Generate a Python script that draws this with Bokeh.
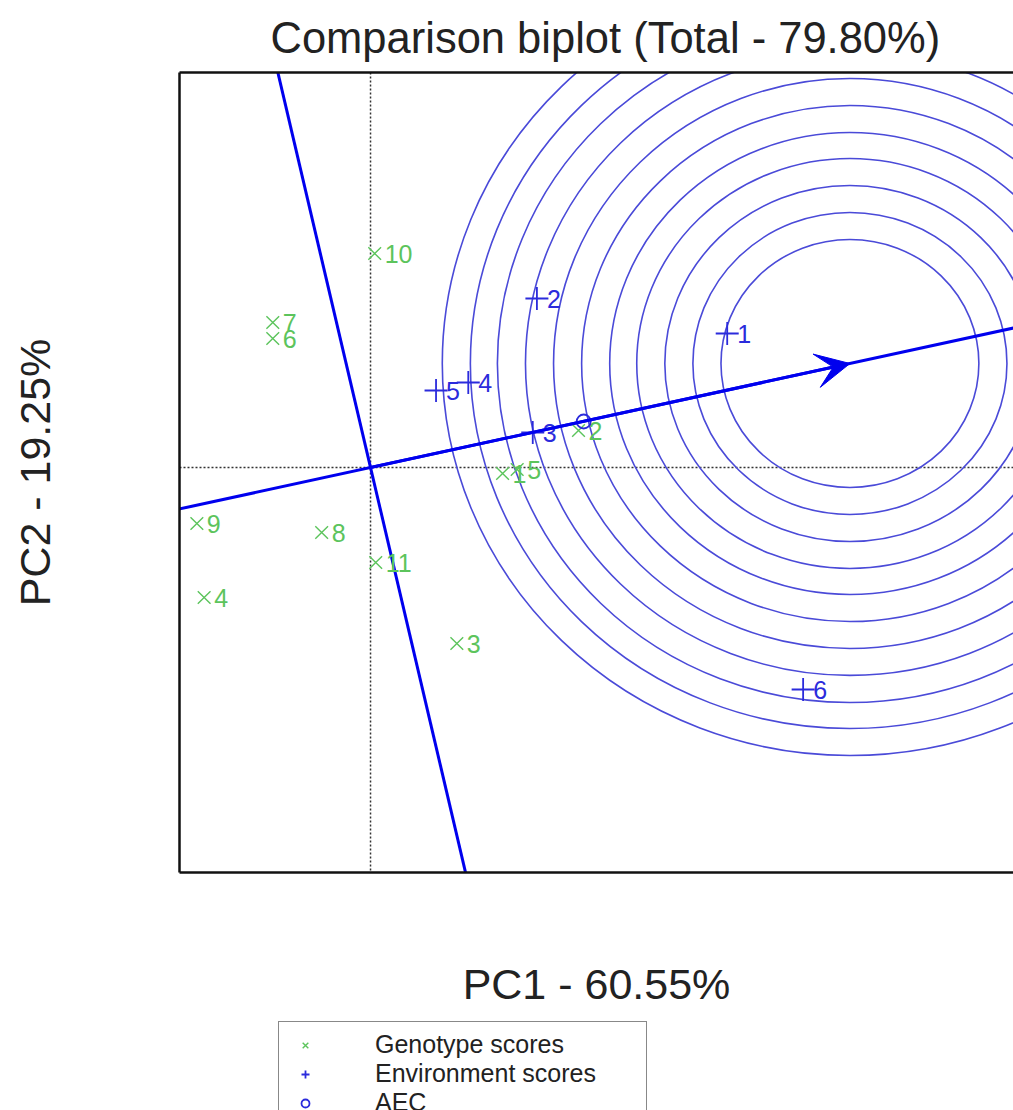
import numpy as np
from bokeh.plotting import figure
from bokeh.layouts import column
from bokeh.models import (Range1d, LinearAxis, FixedTicker, Span, Arrow, VeeHead,
                          Legend, LegendItem)
from bokeh.core.properties import value
from bokeh.embed import file_html
from bokeh.resources import INLINE

# ---------------- data ----------------
title_text = "Comparison biplot (Total - 79.80%)"
x_label = "PC1 - 60.55%"
y_label = "PC2 - 19.25%"

gen_labels = ["1", "2", "3", "4", "5", "6", "7", "8", "9", "10", "11"]
gen_pc1 = [1.27, 2.00, 0.83, -1.60, 1.41, -0.94, -0.94, -0.47, -1.67, 0.04, 0.05]
gen_pc2 = [-0.06, 0.37, -1.76, -1.30, -0.02, 1.29, 1.45, -0.65, -0.56, 2.14, -0.95]

env_labels = ["1", "2", "3", "4", "5", "6"]
env_pc1 = [3.43, 1.60, 1.56, 0.94, 0.63, 4.16]
env_pc2 = [1.34, 1.69, 0.35, 0.85, 0.77, -2.22]

aec_pc1 = [2.05]
aec_pc2 = [0.46]

ideal_pc1 = 4.61
ideal_pc2 = 1.04

ring_radii = [1.24, 1.51, 1.78, 2.05, 2.31, 2.58, 2.85, 3.12, 3.39, 3.65, 3.92]

legend_labels = ["Genotype scores", "Environment scores", "AEC"]

x_start, x_end = -1.837, 6.183
y_start, y_end = -4.05, 3.95

# ---------------- styles ----------------
FONT = "Liberation Sans"
GREEN = "#5cc45c"
BLUE_TXT = "#2b2bdc"
BLUE_LINE = "#0000ee"
RING = "#4a4ad8"

p = figure(width=1013, height=1020,
           x_range=Range1d(x_start, x_end), y_range=Range1d(y_start, y_end),
           output_backend="svg", toolbar_location=None,
           min_border_left=179, min_border_right=0,
           min_border_top=72, min_border_bottom=148,
           outline_line_color=None, background_fill_color="white",
           border_fill_color="white")
p.frame_align = False
p.grid.visible = False

p.title.text = title_text
p.title.align = "left"
p.title.offset = 91
p.title.standoff = 21
p.title.text_font = FONT
p.title.text_font_size = "43.5px"
p.title.text_font_style = "normal"
p.title.text_color = "#222222"

def style_axis(ax):
    ax.ticker = FixedTicker(ticks=[])
    ax.major_tick_line_color = None
    ax.minor_tick_line_color = None
    ax.major_tick_out = 0
    ax.major_label_text_font_size = "0px"
    ax.axis_line_color = "#111111"
    ax.axis_line_width = 2.5
    ax.axis_label_text_font = FONT
    ax.axis_label_text_font_size = "43px"
    ax.axis_label_text_font_style = "normal"
    ax.axis_label_text_color = "#222222"

style_axis(p.xaxis[0])
style_axis(p.yaxis[0])
p.xaxis[0].axis_label = x_label
p.xaxis[0].axis_label_standoff = 87
p.yaxis[0].axis_label = y_label
p.yaxis[0].axis_label_standoff = 121

top_axis = LinearAxis()
style_axis(top_axis)
p.add_layout(top_axis, "above")

# reference dotted axes through origin
p.add_layout(Span(location=0, dimension="height", line_color="#333333",
                  line_dash="2 2", line_width=1.5, level="underlay"))
p.add_layout(Span(location=0, dimension="width", line_color="#333333",
                  line_dash="2 2", line_width=1.5, level="underlay"))

# concentric rings around ideal environment
n = len(ring_radii)
p.ellipse(x=[ideal_pc1] * n, y=[ideal_pc2] * n,
          width=[2 * r for r in ring_radii], height=[2 * r for r in ring_radii],
          fill_color=None, line_color=RING, line_width=1.6)

# AEC abscissa and ordinate
norm = np.hypot(ideal_pc1, ideal_pc2)
ux, uy = ideal_pc1 / norm, ideal_pc2 / norm
t = np.array([-30.0, 30.0])
p.line(t * ux, t * uy, line_color=BLUE_LINE, line_width=3)
p.line(-t * uy, t * ux, line_color=BLUE_LINE, line_width=3)
p.add_layout(Arrow(end=VeeHead(size=34, fill_color=BLUE_LINE, line_color=BLUE_LINE),
                   x_start=0, y_start=0, x_end=ideal_pc1, y_end=ideal_pc2,
                   line_color=BLUE_LINE, line_width=3))

# genotypes
gen_style = dict(marker="x", size=18, line_color=GREEN, line_width=1.4)
p.scatter(gen_pc1, gen_pc2, **gen_style)
p.text(gen_pc1, gen_pc2, text=gen_labels, x_offset=10, text_baseline="middle",
       text_align="left", text_font=value(FONT), text_font_size="25px", text_color=GREEN)

# environments
env_style = dict(marker="cross", size=23, line_color=BLUE_TXT, line_width=1.8)
p.scatter(env_pc1, env_pc2, **env_style)
p.text(env_pc1, env_pc2, text=env_labels, x_offset=10, text_baseline="middle",
       text_align="left", text_font=value(FONT), text_font_size="25px", text_color=BLUE_TXT)

# AEC point
aec_style = dict(marker="circle", size=14, fill_color=None, line_color=BLUE_TXT, line_width=1.8)
p.scatter(aec_pc1, aec_pc2, **aec_style)

# ---------------- legend strip (below the plot) ----------------
# the strip's ranges lie away from the data, so only the legend shows
q = figure(width=1013, height=90, x_range=Range1d(100, 101), y_range=Range1d(100, 101),
           output_backend="svg", toolbar_location=None,
           x_axis_type=None, y_axis_type=None,
           min_border_left=277, min_border_right=0,
           min_border_top=0, min_border_bottom=0,
           outline_line_color=None, background_fill_color="white",
           border_fill_color="white")
q.frame_align = False
q.grid.visible = False
lg = q.scatter(gen_pc1, gen_pc2, **gen_style)
le = q.scatter(env_pc1, env_pc2, **env_style)
la = q.scatter(aec_pc1, aec_pc2, **aec_style)

legend = Legend(items=[LegendItem(label=legend_labels[0], renderers=[lg]),
                       LegendItem(label=legend_labels[1], renderers=[le]),
                       LegendItem(label=legend_labels[2], renderers=[la])],
                location="top_left", orientation="vertical",
                label_text_font=FONT, label_text_font_size="25px",
                label_text_color="#222222",
                glyph_width=36, glyph_height=20, label_height=20, label_width=263,
                label_standoff=52, padding=8, spacing=0, margin=1,
                border_line_color="#111111", border_line_width=1.5,
                background_fill_color="white", background_fill_alpha=1.0)
q.add_layout(legend)

layout = column(p, q, spacing=0)
open("out.html", "w").write(file_html(layout, INLINE))
